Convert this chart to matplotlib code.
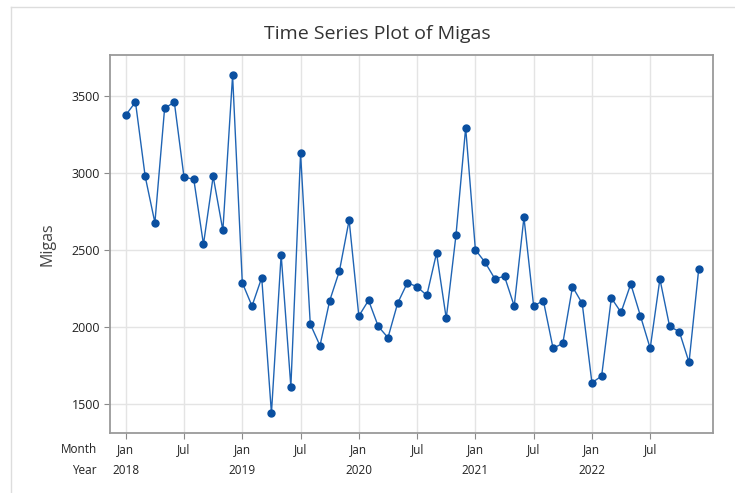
import matplotlib.pyplot as plt
from matplotlib.lines import Line2D
import numpy as np

plt.rcParams['font.family'] = ['Open Sans', 'DejaVu Sans']

# monthly Migas values, Jan 2018 .. Dec 2022
migas = [3375, 3459, 2977, 2677, 3418, 3459, 2971, 2960, 2537, 2977, 2627, 3632,
         2288, 2137, 2321, 1442, 2470, 1614, 3126, 2020, 1880, 2172, 2364, 2694,
         2072, 2174, 2005, 1932, 2156, 2288, 2262, 2206, 2480, 2057, 2595, 3293,
         2502, 2420, 2314, 2329, 2137, 2712, 2137, 2172, 1863, 1895, 2262, 2154,
         1640, 1683, 2189, 2096, 2280, 2072, 1863, 2312, 2005, 1971, 1772, 2379]
years = ['2018', '2019', '2020', '2021', '2022']
month_labels = ['Jan', 'Jul']
y_ticks = [1500, 2000, 2500, 3000, 3500]

fig = plt.figure(figsize=(7.35, 4.93), dpi=100)
ax = fig.add_axes([0.1497, 0.1217, 0.8204, 0.7667])

idx = np.arange(len(migas))
ax.plot(idx, migas, color='#1f64b4', lw=1.0, zorder=3)
ax.plot(idx, migas, 'o', color='#0a4fa0', ms=5, zorder=4)

ax.set_xlim(-1.62, 60.47)
ax.set_ylim(1314, 3764)

xt = np.arange(0, len(migas), 6)
ax.set_xticks(xt)
ax.set_xticklabels([month_labels[(i // 6) % 2] for i in xt], fontsize=8.5, color='#222222')
ax.set_yticks(y_ticks)
ax.set_yticklabels([str(v) for v in y_ticks], fontsize=9, color='#222222')
ax.tick_params(axis='both', direction='out', length=4, width=0.8, color='#8a8a8a')
ax.tick_params(axis='x', pad=3)
ax.tick_params(axis='y', pad=3)

ax.grid(True, color='#e4e4e4', lw=1.0, zorder=0)
ax.set_axisbelow(True)
for s in ax.spines.values():
    s.set_color('#9a9a9a')
    s.set_linewidth(1.3)

trans = ax.get_xaxis_transform()
for k, yr in enumerate(years):
    ax.text(k * 12, -0.098, yr, transform=trans, ha='center', va='center',
            fontsize=8.5, color='#222222')
ax.text(-0.022, -0.044, 'Month', transform=ax.transAxes, ha='right', va='center',
        fontsize=8.5, color='#222222')
ax.text(-0.022, -0.098, 'Year', transform=ax.transAxes, ha='right', va='center',
        fontsize=8.5, color='#222222')

ax.set_ylabel('Migas', fontsize=11.5, color='#444444', labelpad=12)
fig.text(0.514, 0.932, 'Time Series Plot of Migas', ha='center', va='center',
         fontsize=14, color='#333333')

# outer frame of the screenshot
fig.add_artist(Line2D([11 / 735, 11 / 735], [0, 1 - 7 / 493], transform=fig.transFigure,
                      color='#dddddd', lw=1))
fig.add_artist(Line2D([11 / 735, 1], [1 - 7 / 493, 1 - 7 / 493], transform=fig.transFigure,
                      color='#dddddd', lw=1))

fig.savefig('out.png', dpi=100)
